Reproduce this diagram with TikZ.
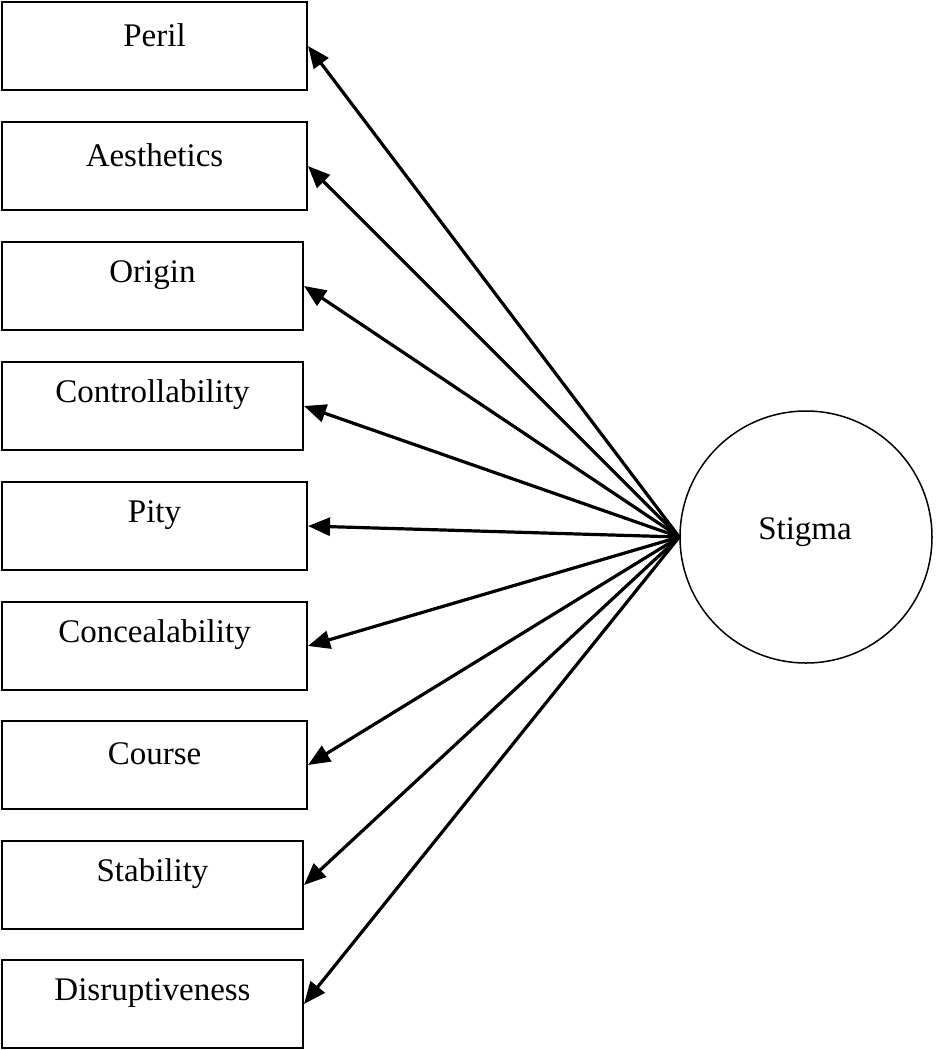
\documentclass[tikz,border=0pt]{standalone}
\usepackage{fontspec}
\setmainfont{Liberation Serif}
\usetikzlibrary{arrows.meta,calc}
\begin{document}
\begin{tikzpicture}[x=1pt,y=-1pt,
  boxnode/.style={draw,line width=2pt,rectangle,inner sep=0pt,anchor=north west,minimum height=88pt},
  lbl/.style={font=\fontsize{33}{33}\selectfont,inner sep=0pt,anchor=center},
  conn/.style={line width=3.2pt,-{Triangle[length=22pt,width=18pt]}}]
\useasboundingbox (0,0) rectangle (935,1050);
\fill[white] (0,0) rectangle (935,1050);
\node[boxnode,minimum width=305pt] (b1) at (1,1) {};
\node[boxnode,minimum width=305pt] (b2) at (1,121) {};
\node[boxnode,minimum width=301pt] (b3) at (1,241) {};
\node[boxnode,minimum width=301pt] (b4) at (1,361) {};
\node[boxnode,minimum width=305pt] (b5) at (1,481) {};
\node[boxnode,minimum width=305pt] (b6) at (1,601) {};
\node[boxnode,minimum width=305pt] (b7) at (1,720) {};
\node[boxnode,minimum width=301pt] (b8) at (1,840) {};
\node[boxnode,minimum width=301pt] (b9) at (1,959) {};
\node[lbl] (t1) at ($(b1.north)+(0,34)$) {Peril};
\node[lbl] (t2) at ($(b2.north)+(0,34)$) {Aesthetics};
\node[lbl] (t3) at ($(b3.north)+(0,34)$) {Origin};
\node[lbl] (t4) at ($(b4.north)+(0,34)$) {Controllability};
\node[lbl] (t5) at ($(b5.north)+(0,34)$) {Pity};
\node[lbl] (t6) at ($(b6.north)+(0,34)$) {Concealability};
\node[lbl] (t7) at ($(b7.north)+(0,34)$) {Course};
\node[lbl] (t8) at ($(b8.north)+(0,34)$) {Stability};
\node[lbl] (t9) at ($(b9.north)+(0,34)$) {Disruptiveness};
\node[draw,circle,line width=1.5pt,minimum size=252pt,inner sep=0pt] (s) at (806,537) {};
\node[lbl] (st) at (805,532) {Stigma};
\foreach \i in {1,...,9}{
  \draw[conn] (s.west) -- (b\i.east);
}
\end{tikzpicture}
\end{document}
